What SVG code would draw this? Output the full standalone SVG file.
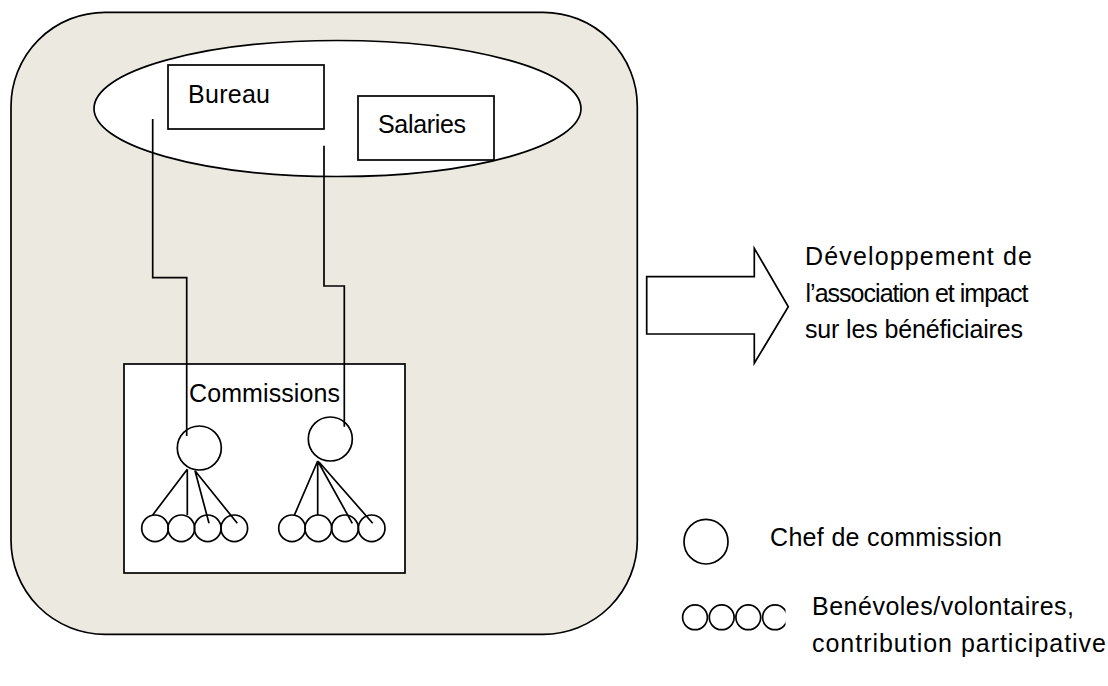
<svg xmlns="http://www.w3.org/2000/svg" width="1108" height="686" viewBox="0 0 1108 686">
<style>
.s{fill:none;stroke:#000;stroke-width:1.7}
.w{fill:#fff;stroke:#000;stroke-width:1.7}
.t{font-family:"Liberation Sans",Arial,sans-serif;font-size:25px;fill:#000}
</style>
<defs>
<clipPath id="clipLeg"><rect x="680" y="600" width="105.5" height="40"/></clipPath>
</defs>
<rect width="1108" height="686" fill="#fff"/>
<g id="association">
<rect x="11" y="12.3" width="626.3" height="622" rx="94" ry="94" fill="#ECEAE0" stroke="#000" stroke-width="1.7"/>
</g>
<g id="direction">
<ellipse cx="337.5" cy="108.5" rx="243.5" ry="68" class="w"/>
</g>
<g id="bureau">
<rect x="168" y="65" width="156" height="64" class="w"/>
<text x="188" y="103" class="t" textLength="82">Bureau</text>
</g>
<g id="salaries">
<rect x="358" y="96" width="136" height="64" class="w"/>
<text x="378" y="133" class="t" textLength="88">Salaries</text>
</g>
<g id="commissions">
<rect x="124" y="364" width="281" height="209" class="w"/>
<text x="189" y="402" class="t" textLength="151">Commissions</text>
<circle cx="199.3" cy="448" r="22" class="s"/>
<circle cx="330.3" cy="439" r="22" class="s"/>
<circle cx="155" cy="528.3" r="13.3" class="s"/>
<circle cx="181.3" cy="528.3" r="13.3" class="s"/>
<circle cx="207.7" cy="528.3" r="13.3" class="s"/>
<circle cx="234.3" cy="528.3" r="13.3" class="s"/>
<circle cx="292" cy="528.3" r="13.3" class="s"/>
<circle cx="318.3" cy="528.3" r="13.3" class="s"/>
<circle cx="345" cy="528.3" r="13.3" class="s"/>
<circle cx="371.7" cy="528.3" r="13.3" class="s"/>
<path class="s" d="M187.3 469.3 L152.7 515 M187.3 469.3 L187.3 515 M195 470.7 L209 523.3 M195 470.7 L237.3 523.3"/>
<path class="s" d="M317.7 461 L294.3 515.3 M317.7 461 L317.7 515.3 M317.7 461 L352.3 523.3 M319 462 L372.7 523.3"/>
</g>
<g id="connectors">
<polyline class="s" points="152.7,119 152.7,277.7 186.7,277.7 186.7,436"/>
<polyline class="s" points="324,145.7 324,286 344.3,286 344.3,426.7"/>
</g>
<g id="impact">
<polygon class="w" points="646.7,276.7 754.3,276.7 754.3,248.3 788.3,306.7 754.3,363.3 754.3,334 646.7,334"/>
<text x="805" y="265" class="t" textLength="227">Développement de</text>
<text x="805.5" y="302" class="t" textLength="223">l’association et impact</text>
<text x="805" y="338" class="t" textLength="218">sur les bénéficiaires</text>
</g>
<g id="legend-chef">
<ellipse cx="706" cy="541.7" rx="22" ry="22.3" class="s"/>
<text x="770" y="546" class="t" textLength="232">Chef de commission</text>
</g>
<g id="legend-benevoles">
<g clip-path="url(#clipLeg)">
<ellipse cx="695" cy="617.3" rx="12.4" ry="12.4" class="s"/>
<ellipse cx="721.7" cy="617.3" rx="12.4" ry="12.4" class="s"/>
<ellipse cx="748.3" cy="617.3" rx="12.4" ry="12.4" class="s"/>
<ellipse cx="775" cy="617.3" rx="12.4" ry="12.4" class="s"/>
</g>
<text x="812" y="615" class="t" textLength="262">Benévoles/volontaires,</text>
<text x="812" y="652" class="t" textLength="294">contribution participative</text>
</g>
</svg>
